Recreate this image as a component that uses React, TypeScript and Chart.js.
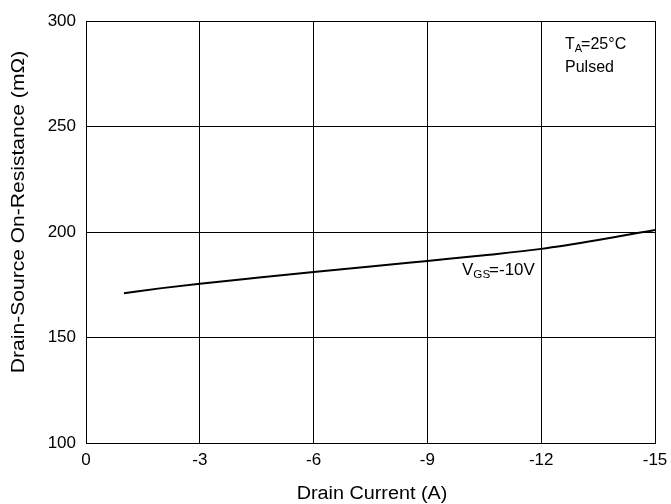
import React, { useEffect, useRef } from "react";
import { Chart, registerables } from "chart.js";

Chart.register(...registerables);

const drainCurrent = [-1, -2, -3, -4.5, -6, -7.5, -9, -10.5, -12, -13.5, -15];
const onResistance = [171, 173.4, 175.5, 178.3, 181, 183.6, 186.3, 189, 192, 196.2, 201];
const xTicks = [0, -3, -6, -9, -12, -15];
const yTicks = [100, 150, 200, 250, 300];
const xTitle = "Drain Current (A)";
const yTitle = "Drain-Source On-Resistance (mΩ)";

const FONT = "Liberation Sans, Arial, sans-serif";

const annotations = {
  id: "annotations",
  afterDraw(chart: any) {
    const ctx = chart.ctx;
    ctx.save();
    ctx.fillStyle = "#000";
    ctx.textBaseline = "alphabetic";
    const drawSub = (x: number, y: number, parts: [string, boolean][]) => {
      let cx = x;
      for (const [t, sub] of parts) {
        ctx.font = (sub ? "11px " : "16px ") + FONT;
        ctx.fillText(t, cx, sub ? y + 3 : y);
        cx += ctx.measureText(t).width - (sub ? 1 : 0);
      }
    };
    drawSub(565, 49, [["T", false], ["A", true], ["=25°C", false]]);
    ctx.font = "16px " + FONT;
    ctx.fillText("Pulsed", 565, 72);
    ctx.save();
    ctx.translate(462, 275);
    ctx.scale(1.06, 1);
    drawSub(0, 0, [["V", false], ["GS", true], ["=-10V", false]]);
    ctx.restore();

    // axis titles (stretched to match reference proportions)
    ctx.font = "18px " + FONT;
    ctx.textAlign = "center";
    ctx.textBaseline = "middle";
    ctx.save();
    ctx.translate(372, 494);
    ctx.scale(1.1, 1);
    ctx.fillText(xTitle, 0, 0);
    ctx.restore();
    ctx.save();
    ctx.translate(19, 212);
    ctx.rotate(-Math.PI / 2);
    ctx.scale(1.17, 1);
    ctx.fillText(yTitle, 0, 0);
    ctx.restore();
    ctx.restore();
  },
};

export default function App() {
  const ref = useRef<HTMLCanvasElement>(null);
  useEffect(() => {
    if (!ref.current) return;
    const chart = new Chart(ref.current, {
      type: "line",
      data: {
        datasets: [
          {
            data: drainCurrent.map((x, i) => ({ x, y: onResistance[i] })),
            borderColor: "#000",
            borderWidth: 2,
            pointRadius: 0,
            tension: 0.4,
            cubicInterpolationMode: "monotone",
            fill: false,
          },
        ],
      },
      options: {
        animation: false,
        responsive: false,
        devicePixelRatio: 1,
        layout: { padding: { top: 21, right: 16, left: 0, bottom: 0 } },
        plugins: { legend: { display: false }, tooltip: { enabled: false }, title: { display: false } },
        scales: {
          x: {
            type: "linear",
            min: -15,
            max: 0,
            reverse: true,
            afterBuildTicks: (s: any) => {
              s.ticks = xTicks.map((v) => ({ value: v }));
            },
            afterFit: (s: any) => {
              s.height = 61;
              s.paddingLeft = 0;
              s.paddingRight = 0;
            },
            grid: { color: "#000", lineWidth: 1, drawTicks: false },
            border: { color: "#000", width: 1 },
            ticks: { color: "#000", font: { family: FONT, size: 17 }, padding: 7, maxRotation: 0 },
          },
          y: {
            type: "linear",
            min: 100,
            max: 300,
            afterBuildTicks: (s: any) => {
              s.ticks = yTicks.map((v) => ({ value: v }));
            },
            afterFit: (s: any) => {
              s.width = 86;
              s.paddingTop = 0;
              s.paddingBottom = 0;
            },
            grid: { color: "#000", lineWidth: 1, drawTicks: false },
            border: { color: "#000", width: 1 },
            ticks: { color: "#000", font: { family: FONT, size: 17 }, padding: 10 },
          },
        },
      },
      plugins: [annotations],
    } as any);
    return () => chart.destroy();
  }, []);
  return (
    <div style={{ position: "fixed", left: 0, top: 0, width: 671, height: 504, background: "#fff" }}>
      <canvas ref={ref} width={671} height={504} style={{ width: 671, height: 504 }} />
    </div>
  );
}
